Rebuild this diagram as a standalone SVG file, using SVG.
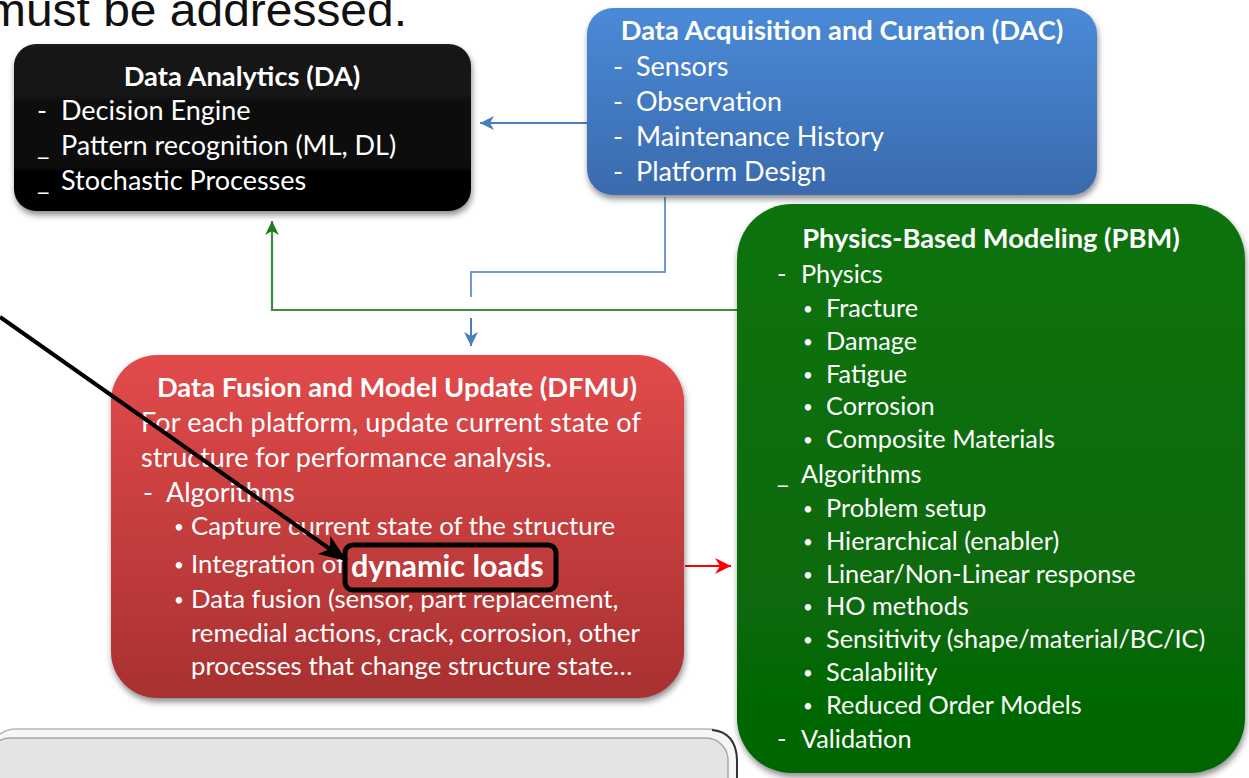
<svg xmlns="http://www.w3.org/2000/svg" width="1249" height="778" viewBox="0 0 1249 778">
<style>
  .t { font-family: Lato, "Open Sans", sans-serif; fill: #ffffff; }
  .ttl { font-weight: bold; text-anchor: middle; font-size: 27.3px; }
  .big { font-size: 27px; }
  .mid { font-size: 25.3px; }
  .dfb { font-size: 25.8px; }
  .blt { font-size: 17px; }
  .cap { font-family: "Liberation Sans", Arial, sans-serif; font-size: 46px; fill: #111; }
</style>
<defs>
  <filter id="sh" x="-10%" y="-10%" width="120%" height="125%">
    <feDropShadow dx="1" dy="4" stdDeviation="3" flood-color="#000" flood-opacity="0.45"/>
  </filter>
  <linearGradient id="gBlack" x1="0" y1="0" x2="0" y2="1">
    <stop offset="0" stop-color="#1a1a1a"/><stop offset="1" stop-color="#000"/>
  </linearGradient>
  <linearGradient id="gBlue" x1="0" y1="0" x2="0" y2="1">
    <stop offset="0" stop-color="#4a8ad8"/><stop offset="1" stop-color="#3a6aac"/>
  </linearGradient>
  <linearGradient id="gGreen" x1="0" y1="0" x2="0" y2="1">
    <stop offset="0" stop-color="#0c730c"/><stop offset="1" stop-color="#056505"/>
  </linearGradient>
  <linearGradient id="gRed" x1="0" y1="0" x2="0" y2="1">
    <stop offset="0" stop-color="#e24a4a"/><stop offset="1" stop-color="#a83131"/>
  </linearGradient>
  <marker id="aBlue" markerUnits="userSpaceOnUse" markerWidth="16" markerHeight="16" refX="15" refY="8" orient="auto">
    <path d="M1,1 L15,8 L1,15 L5,8 z" fill="#4a7ebb"/>
  </marker>
  <marker id="aGreen" markerUnits="userSpaceOnUse" markerWidth="16" markerHeight="16" refX="15" refY="8" orient="auto">
    <path d="M1,1 L15,8 L1,15 L5,8 z" fill="#1f7a1f"/>
  </marker>
  <marker id="aRed" markerUnits="userSpaceOnUse" markerWidth="18" markerHeight="18" refX="17" refY="9" orient="auto">
    <path d="M1,1 L17,9 L1,17 L6,9 z" fill="#ff0000"/>
  </marker>
  <marker id="aBlack" markerUnits="userSpaceOnUse" markerWidth="30" markerHeight="26" refX="28" refY="13" orient="auto">
    <path d="M0,2 L28,13 L0,24 L7,13 z" fill="#000"/>
  </marker>
</defs>

<rect width="1249" height="778" fill="#ffffff"/>

<text class="cap" x="-14" y="26" textLength="421" lengthAdjust="spacingAndGlyphs">must be addressed.</text>

<!-- bottom gray panel -->
<g id="panel">
  <rect x="-12" y="729" width="749" height="90" rx="28" fill="#f6f6f6" stroke="#b8b8b8" stroke-width="1.5"/>
  <rect x="-12" y="738" width="740" height="90" rx="22" fill="#e4e4e4" stroke="#a8a8a8" stroke-width="1.5"/>
  <path d="M712,730 Q736,732 737,760 L737,778" fill="none" stroke="#333" stroke-width="2"/>
</g>

<g id="connectors" fill="none">
  <path d="M587,123 L480,123" stroke="#4a7ebb" stroke-width="2" marker-end="url(#aBlue)"/>
  <path d="M665,197 L665,272 L471,272 L471,297" stroke="#6f9bd0" stroke-width="2"/>
  <path d="M471,318 L471,346" stroke="#4a7ebb" stroke-width="2" marker-end="url(#aBlue)"/>
  <path d="M737,310 L272,310 L272,221" stroke="#3a8f3a" stroke-width="2.2" marker-end="url(#aGreen)"/>
  <path d="M685,566 L731,566" stroke="#ff0000" stroke-width="2" marker-end="url(#aRed)"/>
</g>

<g id="DA">
  <rect x="14" y="44" width="457" height="167" rx="22" fill="url(#gBlack)" filter="url(#sh)"/>
  <text class="t ttl" x="242" y="86">Data Analytics (DA)</text>
  <text class="t big" x="37" y="120">-</text><text class="t big" x="61" y="120">Decision Engine</text>
  <text class="t big" x="37" y="155">_</text><text class="t big" x="61" y="155">Pattern recognition (ML, DL)</text>
  <text class="t big" x="37" y="190">_</text><text class="t big" x="61" y="190">Stochastic Processes</text>
</g>

<g id="DAC">
  <rect x="587" y="8" width="510" height="187" rx="26" fill="url(#gBlue)" filter="url(#sh)"/>
  <text class="t ttl" x="842" y="40">Data Acquisition and Curation (DAC)</text>
  <text class="t big" x="613" y="76">-</text><text class="t big" x="636" y="76">Sensors</text>
  <text class="t big" x="613" y="111">-</text><text class="t big" x="636" y="111">Observation</text>
  <text class="t big" x="613" y="146">-</text><text class="t big" x="636" y="146">Maintenance History</text>
  <text class="t big" x="613" y="181">-</text><text class="t big" x="636" y="181">Platform Design</text>
</g>

<g id="PBM">
  <rect x="737" y="204" width="508" height="569" rx="55" fill="url(#gGreen)" filter="url(#sh)"/>
  <text class="t ttl" x="991" y="248">Physics-Based Modeling (PBM)</text>
  <text class="t mid" x="777" y="283">-</text><text class="t mid" x="801" y="283">Physics</text>
  <g class="t">
    <text class="blt" x="803" y="315">•</text><text class="mid" x="826" y="317">Fracture</text>
    <text class="blt" x="803" y="348">•</text><text class="mid" x="826" y="350">Damage</text>
    <text class="blt" x="803" y="381">•</text><text class="mid" x="826" y="383">Fatigue</text>
    <text class="blt" x="803" y="413">•</text><text class="mid" x="826" y="415">Corrosion</text>
    <text class="blt" x="803" y="446">•</text><text class="mid" x="826" y="448">Composite Materials</text>
  </g>
  <text class="t mid" x="777" y="483">_</text><text class="t mid" x="801" y="483">Algorithms</text>
  <g class="t">
    <text class="blt" x="803" y="515">•</text><text class="mid" x="826" y="517">Problem setup</text>
    <text class="blt" x="803" y="548">•</text><text class="mid" x="826" y="550">Hierarchical (enabler)</text>
    <text class="blt" x="803" y="581">•</text><text class="mid" x="826" y="583">Linear/Non-Linear response</text>
    <text class="blt" x="803" y="613">•</text><text class="mid" x="826" y="615">HO methods</text>
    <text class="blt" x="803" y="646">•</text><text class="mid" x="826" y="648">Sensitivity (shape/material/BC/IC)</text>
    <text class="blt" x="803" y="679">•</text><text class="mid" x="826" y="681">Scalability</text>
    <text class="blt" x="803" y="712">•</text><text class="mid" x="826" y="714">Reduced Order Models</text>
  </g>
  <text class="t mid" x="777" y="748">-</text><text class="t mid" x="801" y="748">Validation</text>
</g>

<g id="DFMU">
  <rect x="111" y="355" width="573" height="343" rx="46" fill="url(#gRed)" filter="url(#sh)"/>
  <text class="t ttl" x="397" y="397">Data Fusion and Model Update (DFMU)</text>
  <g class="t">
    <text class="big" x="141" y="432" textLength="500">For each platform, update current state of</text>
    <text class="big" x="141" y="467">structure for performance analysis.</text>
    <text class="big" x="143" y="502">-</text><text class="big" x="166" y="502">Algorithms</text>
    <text class="blt" x="174" y="533">•</text><text class="dfb" x="191" y="535">Capture current state of the structure</text>
    <text class="blt" x="174" y="571">•</text><text class="dfb" x="191" y="573">Integration of</text>
    <text class="blt" x="174" y="606">•</text><text class="dfb" x="191" y="608">Data fusion (sensor, part replacement,</text>
    <text class="dfb" x="191" y="642">remedial actions, crack, corrosion, other</text>
    <text class="dfb" x="191" y="675">processes that change structure state…</text>
  </g>
  <text class="t" x="351" y="577" font-size="30.5" font-weight="bold">dynamic loads</text>
</g>

<g id="callout">
  <rect x="345" y="545" width="211" height="45" rx="8" fill="none" stroke="#000" stroke-width="5"/>
  <path d="M0,317 L347,561" stroke="#000" stroke-width="4" fill="none" marker-end="url(#aBlack)"/>
</g>
</svg>
